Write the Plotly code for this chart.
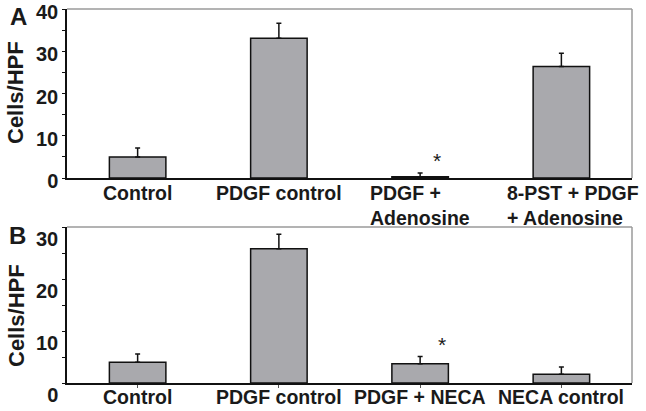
import plotly.graph_objects as go

# ---- data ----
cats_a = ["Control", "PDGF control", "PDGF +<br>Adenosine", "8-PST + PDGF<br>+ Adenosine"]
vals_a = [5.0, 33.1, 0.3, 26.4]
errs_a = [2.1, 3.5, 0.9, 3.1]
yticks_a = [0, 5, 10, 15, 20, 25, 30, 35, 40]
ylabels_a = ["0", "", "10", "", "20", "", "30", "", "40"]

cats_b = ["Control", "PDGF control", "PDGF + NECA", "NECA control"]
vals_b = [4.0, 25.8, 3.7, 1.7]
errs_b = [1.6, 2.8, 1.4, 1.4]
yticks_b = [0, 5, 10, 15, 20, 25, 30]
ylabels_b = ["0", "", "10", "", "20", "", "30"]

W, H = 646, 411
FONT = "Liberation Sans, Arial, Helvetica, sans-serif"
BAR = "#a9a9ad"

def px_x(p):
    return p / W

def px_y(p):
    return 1 - p / H

fig = go.Figure()

for cats, vals, errs, xa, ya in [(cats_a, vals_a, errs_a, "x", "y"), (cats_b, vals_b, errs_b, "x2", "y2")]:
    fig.add_trace(go.Bar(
        x=list(range(len(cats))), y=vals, xaxis=xa, yaxis=ya, width=0.4,
        marker=dict(color=BAR, line=dict(color="#111", width=1.5)),
        error_y=dict(type="data", array=errs, arrayminus=[0] * len(errs), symmetric=False,
                     color="#111", thickness=1.5, width=2.5),
        showlegend=False, hoverinfo="skip",
    ))

xdom = [px_x(67), px_x(632)]
common_x = dict(range=[-0.5, 3.5], showgrid=False, zeroline=False, showline=True,
                linecolor="#111", linewidth=1.5, showticklabels=False, automargin=False,
                tickvals=[0, 1, 2, 3])
common_y = dict(showgrid=False, zeroline=False, showline=True, linecolor="#111", linewidth=1.5,
                ticks="outside", ticklen=3, tickcolor="#111", automargin=False,
                ticklabeloverflow="allow",
                tickfont=dict(family=FONT, size=20, color="#1a1a1a", weight="bold"))

fig.update_layout(
    width=W, height=H, margin=dict(l=0, r=0, t=0, b=0),
    paper_bgcolor="white", plot_bgcolor="white", template=None,
    xaxis=dict(domain=xdom, anchor="y", ticks="", **common_x),
    yaxis=dict(domain=[px_y(178), px_y(9)], anchor="x", range=[0, 40],
               tickvals=yticks_a, ticktext=ylabels_a, ticklabelshift=3, **common_y),
    xaxis2=dict(domain=xdom, anchor="y2", ticks="outside", ticklen=3, tickson="boundaries",
                tickcolor="#555", **common_x),
    yaxis2=dict(domain=[px_y(383), px_y(227)], anchor="x2", range=[0, 30],
                tickvals=yticks_b, ticktext=ylabels_b, ticklabelshift=12, **common_y),
)

shapes = []
for xr, yr in [("x domain", "y domain"), ("x2 domain", "y2 domain")]:
    shapes.append(dict(type="line", xref=xr, yref=yr, x0=0, x1=1, y0=1, y1=1,
                       line=dict(color="#9a9a9a", width=1.5)))
    shapes.append(dict(type="line", xref=xr, yref=yr, x0=1, x1=1, y0=0, y1=1,
                       line=dict(color="#9a9a9a", width=1.5)))
fig.update_layout(shapes=shapes)

ann = []
lab_font = dict(family=FONT, size=19.5, color="#1a1a1a", weight="bold")
shifts_a = [0, 0, 0, 12]
for i, c in enumerate(cats_a):
    ann.append(dict(x=i, y=0, xref="x", yref="y domain", text=c, showarrow=False,
                    xanchor="center", yanchor="top", align="left", yshift=-2,
                    xshift=shifts_a[i], font=lab_font))
for i, c in enumerate(cats_b):
    ann.append(dict(x=i, y=0, xref="x2", yref="y2 domain", text=c, showarrow=False,
                    xanchor="center", yanchor="top", align="left", yshift=-1, font=lab_font))

# asterisks
ann.append(dict(x=2, y=vals_a[2] + errs_a[2], xref="x", yref="y", text="*", showarrow=False,
                xshift=17, yshift=12, font=dict(family=FONT, size=21, color="#1a1a1a")))
ann.append(dict(x=2, y=vals_b[2] + errs_b[2], xref="x2", yref="y2", text="*", showarrow=False,
                xshift=22, yshift=12, font=dict(family=FONT, size=21, color="#1a1a1a")))

# panel letters
big = dict(family=FONT, size=24, color="#1a1a1a", weight="bold")
ann.append(dict(x=px_x(18), y=px_y(17), xref="paper", yref="paper", text="A", showarrow=False,
                xanchor="center", yanchor="middle", font=big))
ann.append(dict(x=px_x(17), y=px_y(235), xref="paper", yref="paper", text="B", showarrow=False,
                xanchor="center", yanchor="middle", font=big))
# y titles
tfont = dict(family=FONT, size=22, color="#1a1a1a", weight="bold")
ann.append(dict(x=px_x(15), y=px_y(93), xref="paper", yref="paper", text="Cells/HPF", showarrow=False,
                textangle=-90, xanchor="center", yanchor="middle", font=tfont))
ann.append(dict(x=px_x(16), y=px_y(316), xref="paper", yref="paper", text="Cells/HPF", showarrow=False,
                textangle=-90, xanchor="center", yanchor="middle", font=tfont))
fig.update_layout(annotations=ann)

fig.write_html("out.html", config={"displayModeBar": False},
               post_script="document.body.style.margin='0';document.body.style.overflow='hidden';")
